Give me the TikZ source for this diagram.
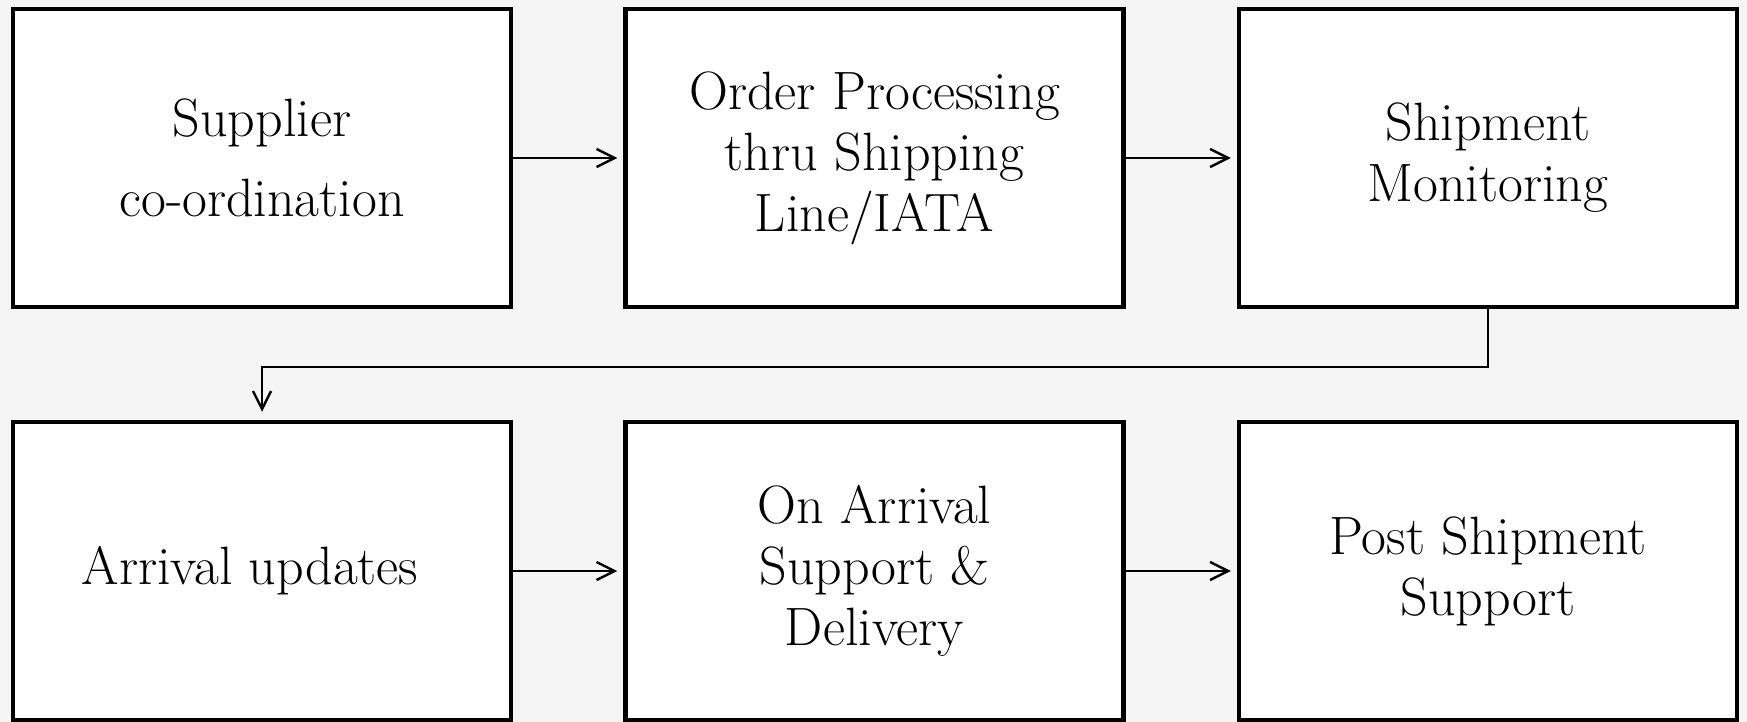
\documentclass[tikz,border=0pt]{standalone}
\usetikzlibrary{arrows.meta}
\begin{document}
\begin{tikzpicture}[x=0.5pt,y=-0.5pt,
    stage/.style={draw=black,fill=white,line width=2.25pt,
      minimum width=249pt,minimum height=149pt,inner sep=0pt,
      align=center,font=\fontsize{27}{30.5}\selectfont},
    flow/.style={line width=1.2pt,-{Straight Barb[length=9pt,width=9pt,line width=1.2pt]},shorten >=3pt}]
    \useasboundingbox[fill=black!4] (0,0) rectangle (1747,722);
    % first row
    \node[stage,font=\fontsize{27}{40}\selectfont] (sup) at (262,158) {Supplier\\co-ordination};
    \node[stage] (ord) at (874.5,158) {Order Processing\\thru Shipping\\Line/IATA};
    \node[stage] (mon) at (1488,158) {Shipment\\Monitoring};
    % second row
    \node[stage] (arr) at (262,571) {Arrival updates\hspace*{12pt}};
    \node[stage] (onarr) at (874.5,571) {On Arrival\\Support \&\\Delivery};
    \node[stage] (post) at (1488,571) {Post Shipment\\Support};
    % connectors
    \draw[flow] (sup.east) -- (ord.west);
    \draw[flow] (ord.east) -- (mon.west);
    \draw[flow,shorten >=4pt] (mon.south) -- ++(0,58) -| (arr.north);
    \draw[flow] (arr.east) -- (onarr.west);
    \draw[flow] (onarr.east) -- (post.west);
\end{tikzpicture}
\end{document}
